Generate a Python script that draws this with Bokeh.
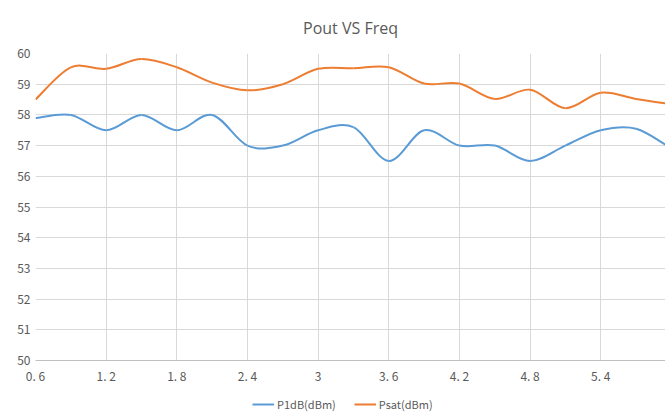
from bokeh.plotting import figure
from bokeh.layouts import column
from bokeh.models import FixedTicker, Range1d, Legend, LegendItem, ColumnDataSource
from bokeh.embed import file_html
from bokeh.resources import INLINE

freq = [0.6, 0.9, 1.2, 1.5, 1.8, 2.1, 2.4, 2.7, 3.0, 3.3, 3.6, 3.9, 4.2, 4.5, 4.8, 5.1, 5.4, 5.7, 6.0]
p1db = [57.9, 58.0, 57.5, 58.0, 57.5, 58.0, 57.0, 57.0, 57.5, 57.6, 56.5, 57.5, 57.0, 57.0, 56.5, 57.0, 57.5, 57.55, 56.9]
psat = [58.5, 59.55, 59.5, 59.82, 59.55, 59.05, 58.8, 59.0, 59.5, 59.52, 59.55, 59.02, 59.02, 58.52, 58.82, 58.22, 58.72, 58.52, 58.35]
x_ticks = [0.6, 1.2, 1.8, 2.4, 3.0, 3.6, 4.2, 4.8, 5.4, 6.0]
x_labels = ["0. 6", "1. 2", "1. 8", "2. 4", "3", "3. 6", "4. 2", "4. 8", "5. 4", "6"]
y_ticks = [50, 51, 52, 53, 54, 55, 56, 57, 58, 59, 60]
series_names = ["P1dB(dBm)", "Psat(dBm)"]
colors = ["#5B9BD5", "#ED7D31"]


def smooth_segments(xs, ys):
    n = len(xs)
    d = dict(x0=[], y0=[], x1=[], y1=[], cx0=[], cy0=[], cx1=[], cy1=[])
    for i in range(n - 1):
        im1 = max(i - 1, 0)
        ip2 = min(i + 2, n - 1)
        d["x0"].append(xs[i]); d["y0"].append(ys[i])
        d["x1"].append(xs[i + 1]); d["y1"].append(ys[i + 1])
        d["cx0"].append(xs[i] + (xs[i + 1] - xs[im1]) / 6)
        d["cy0"].append(ys[i] + (ys[i + 1] - ys[im1]) / 6)
        d["cx1"].append(xs[i + 1] - (xs[ip2] - xs[i]) / 6)
        d["cy1"].append(ys[i + 1] - (ys[ip2] - ys[i]) / 6)
    return ColumnDataSource(d)


p = figure(frame_width=630, frame_height=307, output_backend="svg", toolbar_location=None,
           x_range=Range1d(0.6, 5.95), y_range=Range1d(50, 60),
           min_border_left=35, min_border_right=0, min_border_top=53, min_border_bottom=30)
p.outline_line_color = None
p.background_fill_color = "white"
p.border_fill_color = "white"

p.title.text = "Pout VS Freq"
p.title.align = "center"
p.title.text_font = "Open Sans"
p.title.text_font_size = "16px"
p.title.text_font_style = "normal"
p.title.text_color = "#595959"
p.title.standoff = 29

grid_color = "#d9d9d9"
p.xgrid.ticker = FixedTicker(ticks=x_ticks)
p.ygrid.ticker = FixedTicker(ticks=y_ticks)
p.xgrid.grid_line_color = grid_color
p.ygrid.grid_line_color = grid_color

p.xaxis.ticker = FixedTicker(ticks=x_ticks)
p.xaxis.major_label_overrides = {t: l for t, l in zip(x_ticks, x_labels)}
p.yaxis.ticker = FixedTicker(ticks=y_ticks)
for ax in (p.xaxis[0], p.yaxis[0]):
    ax.major_tick_line_color = None
    ax.minor_tick_line_color = None
    ax.major_tick_in = 0
    ax.major_tick_out = 0
    ax.minor_tick_in = 0
    ax.minor_tick_out = 0
    ax.axis_label_standoff = 0
    ax.major_label_text_font = "Noto Sans CJK SC"
    ax.major_label_text_font_size = "12px"
    ax.major_label_text_color = "#595959"
p.xaxis.axis_line_color = "#bfbfbf"
p.yaxis.axis_line_color = None
p.xaxis.major_label_standoff = 6
p.yaxis.major_label_standoff = 5

for ys, c in zip([p1db, psat], colors):
    src = smooth_segments(freq, ys)
    p.bezier(x0="x0", y0="y0", x1="x1", y1="y1", cx0="cx0", cy0="cy0", cx1="cx1", cy1="cy1",
             source=src, line_color=c, line_width=2)

# separate strip that carries the legend below the chart
pl = figure(width=665, height=24, output_backend="svg", toolbar_location=None,
            x_range=Range1d(0, 1), y_range=Range1d(0, 1),
            x_axis_type=None, y_axis_type=None,
            min_border_left=0, min_border_right=0, min_border_top=0, min_border_bottom=0)
pl.outline_line_color = None
pl.xgrid.visible = False
pl.ygrid.visible = False
items = []
for name, c in zip(series_names, colors):
    r = pl.line(x=[-5, -4], y=[-5, -4], line_color=c, line_width=2)
    items.append(LegendItem(label=name, renderers=[r]))
legend = Legend(items=items, orientation="horizontal", location=(217, 2),
                label_text_font="Noto Sans CJK SC", label_text_font_size="11px",
                label_text_color="#595959", glyph_width=22, glyph_height=10,
                spacing=18, border_line_color=None, background_fill_alpha=0,
                padding=0, margin=0, label_standoff=3, label_height=12)
pl.add_layout(legend, "center")

layout = column(p, pl, spacing=0)
open("out.html", "w").write(file_html(layout, INLINE))
